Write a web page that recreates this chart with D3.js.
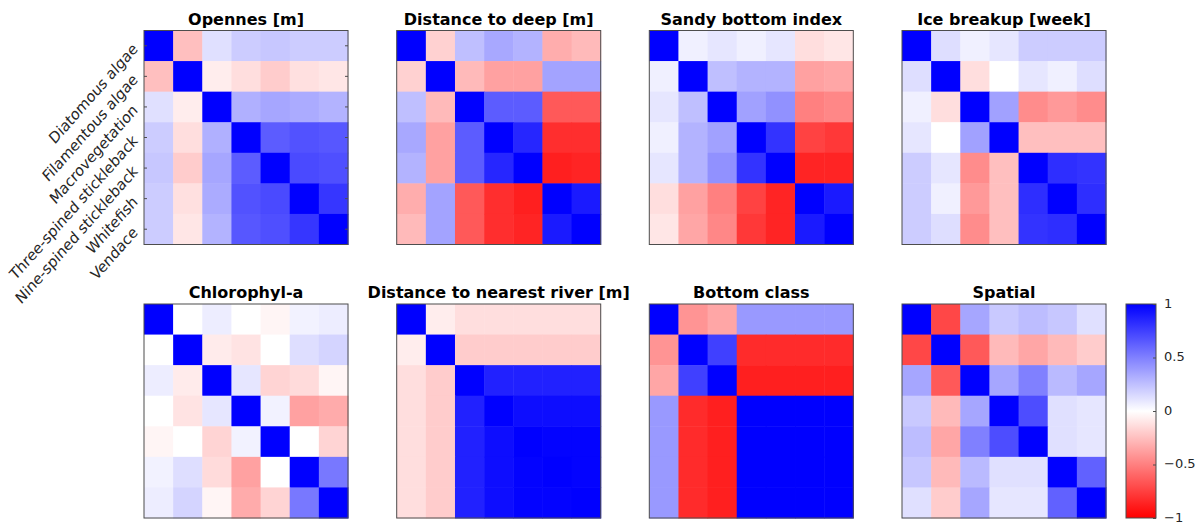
<!DOCTYPE html>
<html>
<head>
<meta charset="utf-8">
<script src="https://d3js.org/d3.v7.min.js"></script>
<style>
	body { margin: 0; background: #fff; }
	svg { display: block; }
	.title { font-family: "DejaVu Sans", sans-serif; font-weight: bold; font-size: 16px; fill: #000; }
	.ylab { font-family: "DejaVu Sans", sans-serif; font-size: 14px; fill: #262626; }
	.cbar text { font-family: "DejaVu Sans", sans-serif; font-size: 13px; fill: #262626; }
</style>
</head>
<body>
<div id="vis"></div>
<script>
// species (rows/columns of every matrix)
var species = ["Diatomous algae", "Filamentous algae", "Macrovegetation",
	"Three-spined stickleback", "Nine-spined stickleback", "Whitefish", "Vendace"];

var titles = ["Opennes [m]", "Distance to deep [m]", "Sandy bottom index", "Ice breakup [week]",
	"Chlorophyl-a", "Distance to nearest river [m]", "Bottom class", "Spatial"];

// correlation matrices
var opennes = [
	[1, -0.25, 0.12, 0.2, 0.22, 0.2, 0.2],
	[-0.25, 1, -0.07, -0.13, -0.2, -0.12, -0.1],
	[0.12, -0.07, 1, 0.31, 0.35, 0.33, 0.3],
	[0.2, -0.13, 0.31, 1, 0.64, 0.68, 0.66],
	[0.22, -0.2, 0.35, 0.64, 1, 0.71, 0.69],
	[0.2, -0.12, 0.33, 0.68, 0.71, 1, 0.79],
	[0.2, -0.1, 0.3, 0.66, 0.69, 0.79, 1]
];
var distDeep = [
	[1, -0.18, 0.25, 0.34, 0.3, -0.32, -0.27],
	[-0.18, 1, -0.27, -0.37, -0.37, 0.36, 0.36],
	[0.25, -0.27, 1, 0.64, 0.64, -0.65, -0.65],
	[0.34, -0.37, 0.64, 1, 0.85, -0.82, -0.82],
	[0.3, -0.37, 0.64, 0.85, 1, -0.88, -0.86],
	[-0.32, 0.36, -0.65, -0.82, -0.88, 1, 0.9],
	[-0.27, 0.36, -0.65, -0.82, -0.86, 0.9, 1]
];
var sandy = [
	[1, 0.06, 0.1, 0.06, 0.1, -0.13, -0.1],
	[0.06, 1, 0.25, 0.3, 0.3, -0.37, -0.35],
	[0.1, 0.25, 1, 0.37, 0.43, -0.5, -0.47],
	[0.06, 0.3, 0.37, 1, 0.8, -0.74, -0.78],
	[0.1, 0.3, 0.43, 0.8, 1, -0.86, -0.86],
	[-0.13, -0.37, -0.5, -0.74, -0.86, 1, 0.9],
	[-0.1, -0.35, -0.47, -0.78, -0.86, 0.9, 1]
];
var iceBreakup = [
	[1, 0.13, 0.06, 0.1, 0.2, 0.2, 0.2],
	[0.13, 1, -0.13, 0, 0.1, 0.06, 0.13],
	[0.06, -0.13, 1, 0.37, -0.45, -0.4, -0.45],
	[0.1, 0, 0.37, 1, -0.25, -0.25, -0.25],
	[0.2, 0.1, -0.45, -0.25, 1, 0.82, 0.8],
	[0.2, 0.06, -0.4, -0.25, 0.82, 1, 0.82],
	[0.2, 0.13, -0.45, -0.25, 0.8, 0.82, 1]
];
var chlorophyl = [
	[1, 0, 0.07, 0, -0.04, 0.05, 0.07],
	[0, 1, -0.08, -0.11, 0, 0.13, 0.17],
	[0.07, -0.08, 1, 0.1, -0.17, -0.14, -0.04],
	[0, -0.11, 0.1, 1, 0.05, -0.37, -0.33],
	[-0.04, 0, -0.17, 0.05, 1, 0, -0.17],
	[0.05, 0.13, -0.14, -0.37, 0, 1, 0.53],
	[0.07, 0.17, -0.04, -0.33, -0.17, 0.53, 1]
];
var distRiver = [
	[1, -0.07, -0.13, -0.13, -0.13, -0.13, -0.13],
	[-0.07, 1, -0.2, -0.2, -0.2, -0.2, -0.2],
	[-0.13, -0.2, 1, 0.87, 0.87, 0.87, 0.87],
	[-0.13, -0.2, 0.87, 1, 0.95, 0.95, 0.95],
	[-0.13, -0.2, 0.87, 0.95, 1, 0.99, 0.99],
	[-0.13, -0.2, 0.87, 0.95, 0.99, 1, 0.99],
	[-0.13, -0.2, 0.87, 0.95, 0.99, 0.99, 1]
];
var bottomClass = [
	[1, -0.42, -0.35, 0.4, 0.4, 0.4, 0.4],
	[-0.42, 1, 0.75, -0.83, -0.83, -0.83, -0.83],
	[-0.35, 0.75, 1, -0.88, -0.88, -0.88, -0.88],
	[0.4, -0.83, -0.88, 1, 1, 1, 1],
	[0.4, -0.83, -0.88, 1, 1, 1, 1],
	[0.4, -0.83, -0.88, 1, 1, 1, 1],
	[0.4, -0.83, -0.88, 1, 1, 1, 1]
];
var spatial = [
	[1, -0.72, 0.35, 0.21, 0.26, 0.22, 0.12],
	[-0.72, 1, -0.65, -0.27, -0.35, -0.27, -0.2],
	[0.35, -0.65, 1, 0.35, 0.5, 0.27, 0.35],
	[0.21, -0.27, 0.35, 1, 0.7, 0.12, 0.1],
	[0.26, -0.35, 0.5, 0.7, 1, 0.12, 0.1],
	[0.22, -0.27, 0.27, 0.12, 0.12, 1, 0.62],
	[0.12, -0.2, 0.35, 0.1, 0.1, 0.62, 1]
];

var matrices = [opennes, distDeep, sandy, iceBreakup, chlorophyl, distRiver, bottomClass, spatial];

var colorTicks = [1, 0.5, 0, -0.5, -1];

var width = 1197;
var height = 524;

var colX = [144, 396.7, 649.3, 902];
var rowY = [30.5, 304];
var panelW = 204;
var panelH = 214;

var svg = d3.select("#vis")
	.append('svg')
	.attr('width', width)
	.attr('height', height);

var color = d3.scaleLinear()
	.domain([-1, 0, 1])
	.range(["#ff0000", "#ffffff", "#0000ff"]);

var xBand = d3.scaleBand().domain(d3.range(species.length)).range([0, panelW]);
var yBand = d3.scaleBand().domain(d3.range(species.length)).range([0, panelH]);

matrices.forEach(function(m, k) {
	var g = svg.append('g')
		.attr('transform', 'translate(' + colX[k % 4] + ',' + rowY[Math.floor(k / 4)] + ')');

	var cells = [];
	m.forEach(function(row, i) {
		row.forEach(function(v, j) {
			cells.push({ i: i, j: j, v: v });
		});
	});

	g.selectAll('rect.cell')
		.data(cells)
		.enter().append('rect')
		.attr('class', 'cell')
		.attr('x', function(d) { return xBand(d.j); })
		.attr('y', function(d) { return yBand(d.i); })
		.attr('width', xBand.bandwidth() + 0.5)
		.attr('height', yBand.bandwidth() + 0.5)
		.attr('fill', function(d) { return color(d.v); });

	g.append('rect')
		.attr('width', panelW)
		.attr('height', panelH)
		.attr('fill', 'none')
		.attr('stroke', '#4d4d4d')
		.attr('stroke-width', 1);

	g.append('text')
		.attr('class', 'title')
		.attr('x', panelW / 2)
		.attr('y', -6)
		.attr('text-anchor', 'middle')
		.text(titles[k]);

	// species names only on the first panel, with small inside ticks
	if (k === 0) {
		var yNames = d3.scaleBand().domain(species).range([0, panelH]);
		var left = g.append('g').call(d3.axisLeft(yNames).tickSizeInner(-3).tickSizeOuter(0).tickPadding(0));
		var right = g.append('g').attr('transform', 'translate(' + panelW + ',0)')
			.call(d3.axisRight(yNames).tickSizeInner(-3).tickSizeOuter(0).tickFormat(''));
		left.select('.domain').remove();
		right.select('.domain').remove();
		left.selectAll('line').attr('stroke', '#4d4d4d');
		right.selectAll('line').attr('stroke', '#4d4d4d');
		// labels are slanted a little steeper than 45 degrees in the original
		left.selectAll('text')
			.attr('class', 'ylab')
			.attr('font-size', null)
			.attr('font-family', null)
			.attr('x', 0)
			.attr('dy', 6.5)
			.attr('text-anchor', 'end')
			.attr('transform', 'translate(-10,-1) scale(1,1.13) rotate(-45)');
	}
});

// colorbar
var cbX = 1126, cbW = 30, cbTop = 304, cbBottom = 518;
var cbScale = d3.scaleLinear().domain([-1, 1]).range([cbBottom, cbTop]);

var grad = svg.append('defs').append('linearGradient')
	.attr('id', 'cbgrad')
	.attr('x1', 0).attr('y1', 1).attr('x2', 0).attr('y2', 0);
grad.selectAll('stop')
	.data(d3.range(-1, 1.001, 0.1))
	.enter().append('stop')
	.attr('offset', function(d) { return (d + 1) / 2; })
	.attr('stop-color', function(d) { return color(d); });

svg.append('rect')
	.attr('x', cbX)
	.attr('y', cbTop)
	.attr('width', cbW)
	.attr('height', cbBottom - cbTop)
	.attr('fill', 'url(#cbgrad)')
	.attr('stroke', '#4d4d4d');

var cbAxis = svg.append('g')
	.attr('class', 'cbar')
	.attr('transform', 'translate(' + (cbX + cbW) + ',0)')
	.call(d3.axisRight(cbScale).tickValues(colorTicks).tickFormat(d3.format('')).tickSizeInner(-3).tickSizeOuter(0).tickPadding(8));
cbAxis.select('.domain').remove();
cbAxis.selectAll('line').attr('stroke', '#4d4d4d');
cbAxis.selectAll('text').attr('font-size', null).attr('font-family', null).attr('dy', '0.25em');
</script>
</body>
</html>
